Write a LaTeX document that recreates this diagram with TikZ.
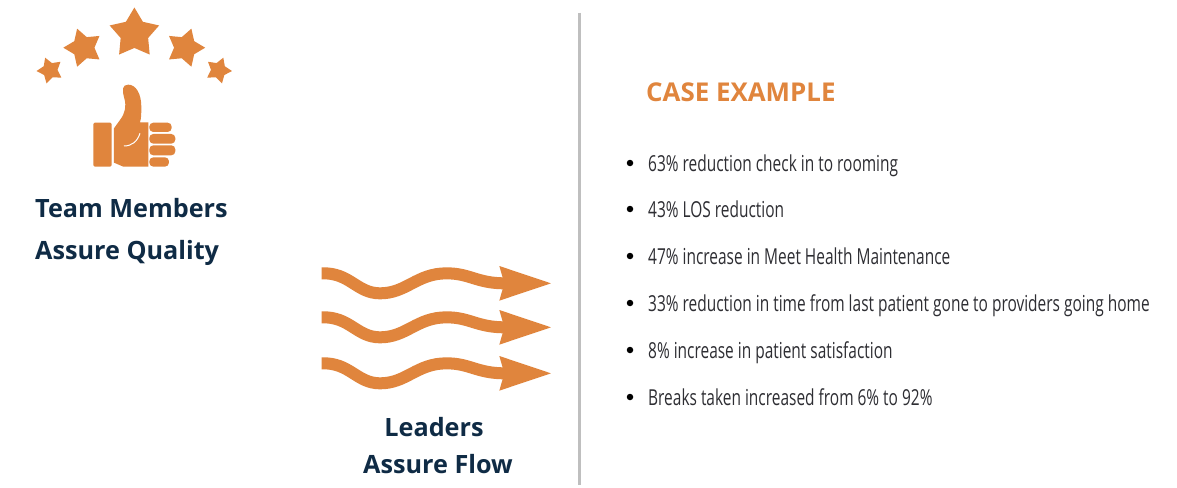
\documentclass[tikz,border=0pt]{standalone}
\usepackage{fontspec}
\setmainfont{Open Sans}
\newfontfamily\condfont[FakeStretch=0.703]{Open Sans}
\usetikzlibrary{shapes.geometric}
\definecolor{orangeA}{HTML}{E0853D}
\definecolor{navyA}{HTML}{0F2B45}
\definecolor{bodyA}{HTML}{2E2E33}
\definecolor{ruleA}{HTML}{BFBFBF}
\tikzset{
  starA/.style={star,star points=5,star point ratio=1.8,fill=orangeA,draw=none,inner sep=0pt,minimum size=#1},
  headA/.style={anchor=base west,inner sep=0pt,font=\fontsize{25.2}{30}\selectfont\bfseries,text=navyA},
  headC/.style={anchor=base,inner sep=0pt,font=\fontsize{25.2}{30}\selectfont\bfseries,text=navyA},
  caseA/.style={anchor=base west,inner sep=0pt,font=\fontsize{25.9}{30}\selectfont\bfseries,text=orangeA},
  itemA/.style={anchor=base west,inner sep=0pt,font=\condfont\fontsize{22}{26}\selectfont,text=bodyA},
  bulA/.style={circle,fill=black,inner sep=0pt,minimum size=6.5pt},
  waveA/.style={draw=orangeA,line width=12pt,line cap=butt},
  fingerA/.style={fill=orangeA,rounded corners=4pt,draw=none}
}
\newcommand{\wavearrow}[1]{%
  \begin{scope}[shift={(310pt,-#1 pt)},x=0.3333pt,y=-0.3333pt]
    \draw[waveA] (35,55) .. controls (120,52) and (140,115) .. (210,115)
      .. controls (290,115) and (320,55) .. (410,55)
      .. controls (480,55) and (500,85) .. (585,85);
    \fill[orangeA] (568,33) -- (723,85) -- (568,137) -- (583,85) -- cycle;
  \end{scope}}
\begin{document}
\begin{tikzpicture}[x=1pt,y=-1pt]
\useasboundingbox (0,0) rectangle (1177,487);
\fill[white] (0,0) rectangle (1177,487);
% stars
\node[starA=52pt,rotate=0] (s3) at (134.4,33.5) {};
\node[starA=40pt,rotate=18] (s2) at (83.3,47.7) {};
\node[starA=40pt,rotate=-18] (s4) at (185.2,47.7) {};
\node[starA=27pt,rotate=21] (s1) at (50,70.3) {};
\node[starA=27pt,rotate=-21] (s5) at (218.5,70.3) {};
% thumb
\begin{scope}[shift={(20pt,0pt)},x=0.3333pt,y=-0.3333pt]
  \fill[orangeA,rounded corners=1.5pt] (220,368) rectangle (275,500);
  \fill[orangeA] (282,385) -- (300,360) .. controls (315,340) and (320,320) .. (313,295)
     .. controls (306,270) and (306,254) .. (325,254)
     .. controls (347,254) and (364,280) .. (364,320)
     .. controls (364,340) and (364,355) .. (360,367) -- (385,367) -- (385,500) -- (310,500) -- (282,488) -- cycle;
  \fill[fingerA] (388,368) rectangle (455,396);
  \fill[fingerA] (388,402) rectangle (466,431);
  \fill[fingerA] (388,436) rectangle (466,466);
  \fill[fingerA] (388,472) rectangle (447,500);
  \draw[white,line width=1pt] (312,438) .. controls (335,438) and (352,425) .. (360,400);
\end{scope}
% texts
\node[headA] (t1) at (35,217) {Team Members};
\node[headA] (t2) at (35,259) {Assure Quality};
\wavearrow{255}
\wavearrow{299}
\wavearrow{345}
\node[headC] (l1) at (434,436) {Leaders};
\node[headC] (l2) at (438,473) {Assure Flow};
\draw[ruleA,line width=3pt] (579,13) -- (579,485);
\node[caseA] (c0) at (646,101) {CASE EXAMPLE};
\foreach \yy/\txt/\nm in {
  171/{63\% reduction check in to rooming}/a,
  217/{43\% LOS reduction}/b,
  264/{47\% increase in Meet Health Maintenance}/c,
  311/{33\% reduction in time from last patient gone to providers going home}/d,
  358/{8\% increase in patient satisfaction}/e,
  405/{Breaks taken increased from 6\% to 92\%}/f}{
  \node[itemA] (i\nm) at (648,\yy) {\txt};
  \node[bulA] (b\nm) at (630,\yy-8) {};
}
\end{tikzpicture}
\end{document}
